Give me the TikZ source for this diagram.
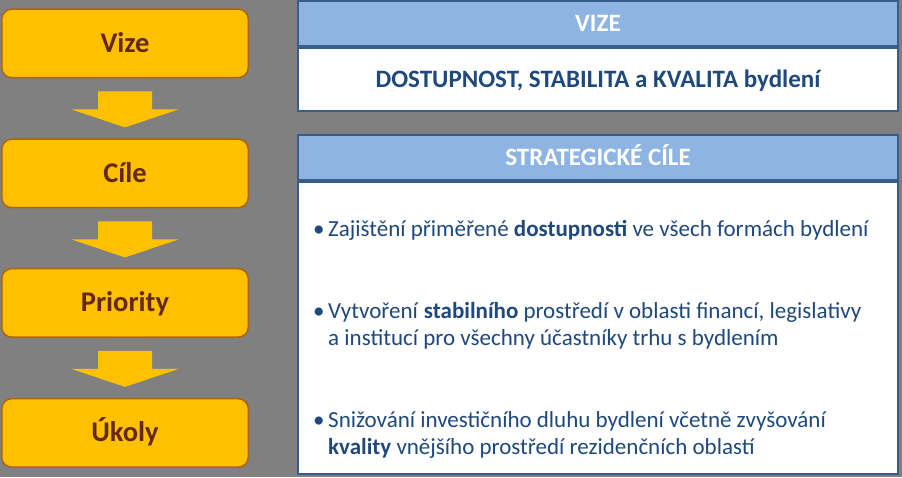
\documentclass[tikz,border=0pt]{standalone}
\usepackage{fontspec}
\setmainfont{Carlito}
\usetikzlibrary{positioning}
\definecolor{bggray}{RGB}{128,128,128}
\definecolor{boxorange}{RGB}{255,192,0}
\definecolor{boxedge}{RGB}{175,100,15}
\definecolor{boxtext}{RGB}{100,40,10}
\definecolor{headblue}{RGB}{142,180,227}
\definecolor{edgeblue}{RGB}{56,93,138}
\definecolor{textblue}{RGB}{31,73,125}

\begin{document}
\begin{tikzpicture}[x=1pt,y=-1pt,
	step box/.style={rectangle,rounded corners=10pt,draw=boxedge,line width=1.5pt,fill=boxorange,text=boxtext,font=\fontsize{28.5}{32}\selectfont\bfseries,minimum width=246.5pt,minimum height=68.5pt,text height=18pt,text depth=0pt},
	head box/.style={rectangle,draw=edgeblue,line width=1.8pt,fill=headblue,text=white,font=\fontsize{25}{28}\selectfont\bfseries,minimum width=600pt,minimum height=45pt,text height=16pt,text depth=0pt},
	body box/.style={rectangle,draw=edgeblue,line width=1.8pt,fill=white,minimum width=600pt},
	item/.style={anchor=west,align=left,text=textblue,inner sep=0pt,font=\fontsize{23}{27}\selectfont},
	flow arrow/.style={fill=boxorange},
	]
	\fill[bggray] (0,0) rectangle (902,477);
	% left column
	\node[step box] (vize) at (125,43) {Vize};
	\node[step box] (cile) at (125,173) {Cíle};
	\node[step box] (prio) at (125,302.5) {Priority};
	\node[step box] (ukoly) at (125,432.5) {Úkoly};
	\foreach \a in {vize,cile,prio}
		\fill[flow arrow,shift={(\a.south)}] (-27,13) -- (27,13) -- (27,31) -- (53.5,31) -- (0,49) -- (-53.5,31) -- (-27,31) -- cycle;
	% right column
	\node[head box] (vizehead) at (598,23) {VIZE};
	\node[body box,minimum height=63pt,below=0pt of vizehead] (vizebody) {};
	\node[anchor=base,text=textblue,font=\fontsize{25}{28}\selectfont\bfseries] (vizetext) at (598,87) {DOSTUPNOST, STABILITA a KVALITA bydlení};
	\node[head box] (cilehead) at (598,157) {STRATEGICKÉ CÍLE};
	\node[body box,minimum height=292.5pt,below=0pt of cilehead] (cilebody) {};
	\node[item] (item1) at (313,230) {\makebox[15pt][l]{•}Zajištění přiměřené \textbf{dostupnosti} ve všech formách bydlení};
	\node[item] (item2) at (313,325.5) {\makebox[15pt][l]{•}Vytvoření \textbf{stabilního} prostředí v oblasti financí, legislativy\\\hspace*{15pt}a institucí pro všechny účastníky trhu s bydlením};
	\node[item] (item3) at (313,434.5) {\makebox[15pt][l]{•}Snižování investičního dluhu bydlení včetně zvyšování\\\hspace*{15pt}\textbf{kvality} vnějšího prostředí rezidenčních oblastí};
\end{tikzpicture}
\end{document}
